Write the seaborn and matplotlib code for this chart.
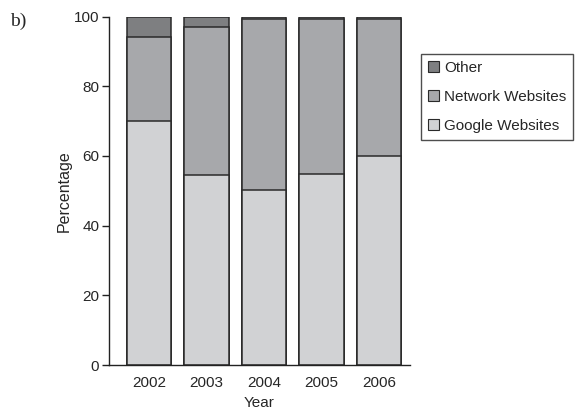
import matplotlib
matplotlib.use("Agg")
import matplotlib.pyplot as plt
from matplotlib.patches import Patch
import seaborn as sns
import pandas as pd
import numpy as np

years = ["2002", "2003", "2004", "2005", "2006"]
google = [70, 54.4, 50.2, 54.9, 60]
network = [24, 42.6, 49.1, 44.4, 39.3]
other = [6, 3, 0.7, 0.7, 0.7]

series_names = ["Google Websites", "Network Websites", "Other"]
colors = {"Google Websites": "#d1d2d4", "Network Websites": "#a7a8ab", "Other": "#7e7f81"}
y_ticks = [0, 20, 40, 60, 80, 100]

sns.set_style("white")
plt.rcParams["font.family"] = ["Liberation Sans", "DejaVu Sans"]

fig = plt.figure(figsize=(5.79, 4.13), dpi=100)
ax = fig.add_axes([0.188, 0.116, 0.52, 0.844])

df = pd.DataFrame({"Year": years, "Google Websites": google,
                   "Network Websites": network, "Other": other})
cum = df[series_names].cumsum(axis=1)

# Stacked bars: draw the cumulative totals from the top segment down
for name in reversed(series_names):
    sns.barplot(x=df["Year"], y=cum[name], color=colors[name], width=0.77,
                edgecolor="#2a2a2a", linewidth=1.1, saturation=1, ax=ax)

ax.set_ylim(0, 100)
ax.set_xlim(-0.7, 4.54)
ax.set_yticks(y_ticks)
ax.set_yticklabels([str(t) for t in y_ticks])
for s in ["top", "right"]:
    ax.spines[s].set_visible(False)
for s in ["left", "bottom"]:
    ax.spines[s].set_color("#222222")
    ax.spines[s].set_linewidth(1.0)
ax.tick_params(axis="y", direction="out", length=5, width=1.0, color="#222222",
               labelsize=11, pad=2, left=True)
ax.tick_params(axis="x", length=0, labelsize=11, pad=8)
ax.set_xlabel("Year", fontsize=11, labelpad=4)
ax.set_ylabel("Percentage", fontsize=11.5, labelpad=1)

handles = [Patch(facecolor=colors[n], edgecolor="#2a2a2a", linewidth=0.8)
           for n in reversed(series_names)]
leg = fig.legend(handles, list(reversed(series_names)), loc="upper left",
                 bbox_to_anchor=(421 / 579, 1 - 54 / 413), frameon=True,
                 fancybox=False, edgecolor="#222222", fontsize=11,
                 handlelength=0.7, handleheight=0.7, handletextpad=0.35,
                 labelspacing=0.98, borderpad=0.45, borderaxespad=0)
leg.get_frame().set_linewidth(1.0)

fig.text(10 / 579, 1 - 21 / 413, "b)", family=["Liberation Serif", "DejaVu Serif"],
         fontsize=14, va="center", ha="left")

fig.savefig("out.png", dpi=100)
